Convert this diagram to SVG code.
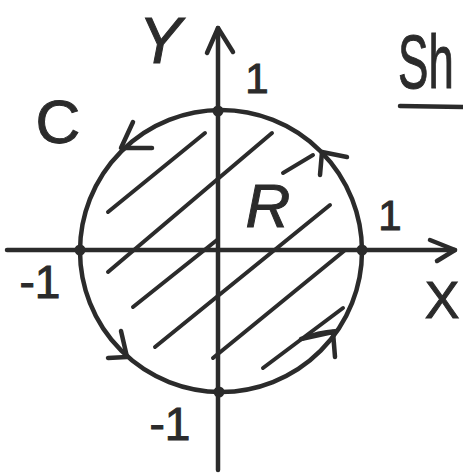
<svg xmlns="http://www.w3.org/2000/svg" width="463" height="473" viewBox="0 0 463 473">
<style>
.ln{fill:none;stroke:#2b2b2b;stroke-width:4.5;stroke-linecap:round;stroke-linejoin:round}
.hatch{fill:none;stroke:#2b2b2b;stroke-width:4;stroke-linecap:round}
.dot{fill:#2b2b2b}
.t{font-family:"Liberation Sans","DejaVu Sans",sans-serif;fill:#2b2b2b;stroke:#2b2b2b;stroke-width:1;text-anchor:middle}
</style>
<rect width="463" height="473" fill="#ffffff"/>
<g id="axes">
  <path class="ln" d="M218,470 L218,28"/>
  <path class="ln" d="M207,53 L218,28 L233,52"/>
  <path class="ln" d="M7,250 L455,250"/>
  <path class="ln" d="M430,240 L455,250 L437,261"/>
</g>
<g id="region-R">
  <path class="hatch" d="M108,212 L205,133"/>
  <path class="hatch" d="M108,272 L272,133"/>
  <path class="hatch" d="M133,307 L217,240"/>
  <path class="hatch" d="M283,173 L313,155"/>
  <path class="hatch" d="M155,347 L330,205"/>
  <path class="hatch" d="M213,358 L344,251"/>
  <path class="hatch" d="M263,368 L343,308"/>
  <path class="hatch" d="M302,339 Q318,332 335,331"/>
</g>
<g id="curve-C">
  <circle class="ln" cx="221" cy="251" r="141"/>
  <path class="ln" d="M133,122 L121,148 L152,148"/>
  <path class="ln" d="M347,157 L322,152 L320,175"/>
  <path class="ln" d="M121,331 L127,357 L108,358"/>
  <path class="ln" d="M301,339 L333,332 L335,357"/>
</g>
<g id="points">
  <circle class="dot" cx="218" cy="111" r="5.5"/>
  <circle class="dot" cx="80" cy="250" r="5.5"/>
  <circle class="dot" cx="362" cy="250" r="5.5"/>
  <circle class="dot" cx="219" cy="392" r="5.5"/>
</g>
<g id="labels">
  <text class="t" x="160" y="63" font-size="64" font-style="italic">Y</text>
  <text class="t" x="257" y="93" font-size="42">1</text>
  <text class="t" x="58" y="143" font-size="62">C</text>
  <text class="t" x="268" y="227" font-size="62" font-style="italic">R</text>
  <text class="t" x="390" y="230" font-size="42">1</text>
  <text class="t" x="40" y="298" font-size="46">-1</text>
  <text class="t" x="442" y="318" font-size="52">X</text>
  <text class="t" x="170" y="440" font-size="46">-1</text>
  <text x="0" y="0" font-size="76" font-family="Liberation Sans, DejaVu Sans, sans-serif" fill="#2b2b2b" stroke="#2b2b2b" stroke-width="1" transform="translate(398,88) scale(0.6,1)">Sh</text>
  <path class="ln" d="M400,106 L463,107"/>
</g>
</svg>
